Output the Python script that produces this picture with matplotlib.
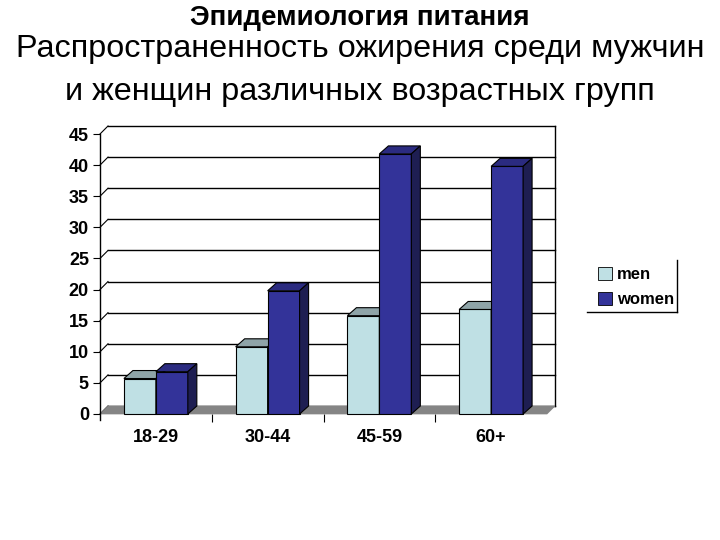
import matplotlib
matplotlib.use("Agg")
import matplotlib.pyplot as plt
from matplotlib.patches import Polygon, Rectangle, Patch
from matplotlib.lines import Line2D

plt.rcParams['font.family'] = ['Liberation Sans', 'DejaVu Sans']

# data
groups = ["18-29", "30-44", "45-59", "60+"]
men = [5.7, 10.8, 15.8, 16.8]
women = [6.8, 19.8, 41.8, 39.8]
series_names = ["men", "women"]
yticks = list(range(0, 46, 5))

# colours: front, top, side
men_cols = ("#bfe0e4", "#8fa4a8", "#7f9497")
women_cols = ("#333399", "#2b2b80", "#1e1e52")
floor_col = "#858585"

fig = plt.figure(figsize=(7.2, 5.4), dpi=100)
ax = fig.add_axes([100 / 720, 126 / 540, 447 / 720, 280 / 540])
ax.set_xlim(0, len(groups))
ax.set_ylim(0, 45)

# depth offsets in data units (about 8 px right, 8 px up)
dx = 8 / (447 / len(groups))
dy = 8 / (280 / 45)

# back wall grid and side diagonals
for v in yticks:
    ax.plot([dx, len(groups) + dx], [v + dy, v + dy], color="black", lw=1.0, clip_on=False, zorder=1)
    ax.plot([0, dx], [v, v + dy], color="black", lw=0.8, clip_on=False, zorder=1)
ax.plot([len(groups) + dx, len(groups) + dx], [dy, 45 + dy], color="black", lw=1.0, clip_on=False, zorder=1)

# floor
ax.add_patch(Polygon([(0, 0), (len(groups), 0), (len(groups) + dx, dy), (dx, dy)],
                     closed=True, facecolor=floor_col, edgecolor=floor_col, lw=0.5, clip_on=False, zorder=2))

bw = 0.286
bdx = 9 / (447 / len(groups))
bdy = dy


def draw_bar(x0, h, cols):
    ax.add_patch(Rectangle((x0, 0), bw, h, facecolor=cols[0], edgecolor="black", lw=0.8, zorder=3, clip_on=False))
    ax.add_patch(Polygon([(x0, h), (x0 + bw, h), (x0 + bw + bdx, h + bdy), (x0 + bdx, h + bdy)],
                         closed=True, facecolor=cols[1], edgecolor="black", lw=0.8, zorder=3, clip_on=False))
    ax.add_patch(Polygon([(x0 + bw, 0), (x0 + bw + bdx, bdy), (x0 + bw + bdx, h + bdy), (x0 + bw, h)],
                         closed=True, facecolor=cols[2], edgecolor="black", lw=0.8, zorder=3, clip_on=False))


for i in range(len(groups)):
    c = i + 0.5
    draw_bar(c - bw, men[i], men_cols)
    draw_bar(c, women[i], women_cols)

# axes styling
for s in ["top", "right", "bottom"]:
    ax.spines[s].set_visible(False)
ax.spines["left"].set_linewidth(1.0)
ax.spines["left"].set_bounds(-1.0, 45)
ax.set_yticks(yticks)
ax.tick_params(axis="y", length=5, width=0.8, pad=3, labelsize=13)
ax.set_xticks([i + 0.5 for i in range(len(groups))])
ax.set_xticklabels(groups)
ax.set_xticks(range(1, len(groups)), minor=True)
ax.tick_params(axis="x", which="major", length=0, pad=11, labelsize=13)
ax.tick_params(axis="x", which="minor", length=6, width=0.8)
for lab in ax.get_xticklabels() + ax.get_yticklabels():
    lab.set_fontweight("bold")
ax.patch.set_visible(False)

# legend
handles = [Patch(facecolor=men_cols[0], edgecolor="black", lw=0.6),
           Patch(facecolor=women_cols[0], edgecolor="black", lw=0.6)]
leg = fig.legend(handles, series_names, loc="center left", bbox_to_anchor=(591 / 720, 1 - 287 / 540),
                 frameon=False, prop={"weight": "bold", "size": 12}, handlelength=0.85, handleheight=0.85,
                 handletextpad=0.3, labelspacing=0.6, borderaxespad=0)
fig.add_artist(Line2D([677 / 720, 677 / 720], [1 - 260 / 540, 1 - 312 / 540], color="black", lw=1.0))
fig.add_artist(Line2D([587 / 720, 677 / 720], [1 - 312 / 540, 1 - 312 / 540], color="black", lw=1.0))

# titles
fig.text(0.5, 1 - 18 / 540, "Эпидемиология питания", ha="center", va="center", fontsize=20, fontweight="bold")
fig.text(0.5, 1 - 49 / 540, "Распространенность ожирения среди мужчин", ha="center", va="center", fontsize=23.3)
fig.text(0.5, 1 - 92 / 540, "и женщин различных возрастных групп", ha="center", va="center", fontsize=23.3)

fig.savefig("out.png", dpi=100)
